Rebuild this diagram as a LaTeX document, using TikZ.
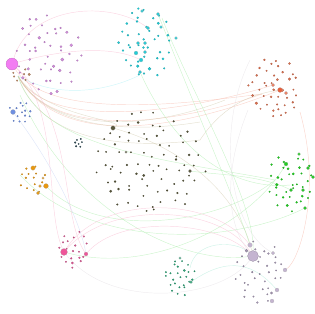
\documentclass[tikz,border=0pt]{standalone}
\usetikzlibrary{shapes.geometric}
\pgfdeclarelayer{bg}
\pgfsetlayers{bg,main}
\definecolor{magc}{HTML}{D38FDD}
\definecolor{magbig}{HTML}{F27CF2}
\definecolor{cyc}{HTML}{22CCD6}
\definecolor{redc}{HTML}{DA7050}
\definecolor{redbig}{HTML}{E8603C}
\definecolor{grc}{HTML}{22CC22}
\definecolor{olc}{HTML}{57553A}
\definecolor{orc}{HTML}{E8980F}
\definecolor{pkc}{HTML}{DD5C96}
\definecolor{pkbig}{HTML}{EE5599}
\definecolor{tec}{HTML}{2FA67A}
\definecolor{lac}{HTML}{A496B2}
\definecolor{labig}{HTML}{C4B4D0}
\definecolor{blc}{HTML}{6F8FE0}
\definecolor{tnc}{HTML}{C08A66}
\definecolor{dkc}{HTML}{35505A}
\definecolor{esal}{HTML}{F6B4A4}
\definecolor{eol}{HTML}{CFC8AA}
\definecolor{egr}{HTML}{A6ECA6}
\definecolor{epk}{HTML}{F8B4CC}
\definecolor{ecy}{HTML}{A6EEF4}
\definecolor{egy}{HTML}{E2DCE2}
\definecolor{ebl}{HTML}{C4D2F4}
\definecolor{ete}{HTML}{A8E8D4}
\tikzset{
  dot/.style={circle, inner sep=0pt, draw=black!30, line width=0.15pt},
  edge/.style={line width=0.45pt, opacity=0.55},
}
% jittered hexagonal grid inside an ellipse
% #1 name, #2 cx, #3 cy, #4 rx, #5 ry, #6 spacing, #7 colour, #8 min size, #9 size range
\newcommand\mkcluster[9]{%
  \foreach \u in {-8,...,8}{%
    \foreach \v in {-8,...,8}{%
      \pgfmathsetmacro\rX{(\u+0.5*mod(abs(\v),2))*#6+(rnd-0.5)*0.7*#6}%
      \pgfmathsetmacro\rY{\v*#6*0.87+(rnd-0.5)*0.7*#6}%
      \pgfmathsetmacro\rS{#8+#9*rnd*rnd*rnd}%
      \pgfmathsetmacro\rIn{((\rX/#4)^2+(\rY/#5)^2)<=1 ? 1 : 0}%
      \ifdim\rIn pt>0.5pt
        \node[dot, fill=#7, draw=#7!75!black, minimum size=\rS pt] (#1x\u y\v) at ({#2+\rX},{#3+\rY}) {};
      \fi
    }}}
\begin{document}
\begin{tikzpicture}[x=1pt,y=-1pt]
\useasboundingbox (0,0) rectangle (314,314);
\pgfmathsetseed{23}
% clusters of small dots
\mkcluster{m}{48}{54}{34}{42}{10.5}{magc}{1.7}{2.8}
\mkcluster{c}{146}{42}{29}{37}{10}{cyc}{1.8}{2.4}
\mkcluster{r}{275}{88}{27}{32}{8.5}{redc}{1.6}{2.2}
\mkcluster{g}{291}{182}{24}{30}{8.5}{grc}{1.6}{2.4}
\mkcluster{o}{150}{163}{58}{52}{11.5}{olc}{1.5}{1.8}
\mkcluster{or}{33}{180}{14}{14}{7}{orc}{1.6}{1.6}
\mkcluster{p}{74}{250}{15}{20}{7.5}{pkc}{1.6}{1.8}
\mkcluster{t}{180}{278}{16}{19}{6.5}{tec}{1.5}{1.8}
\mkcluster{l}{260}{272}{26}{32}{9}{lac}{1.5}{1.8}
\mkcluster{b}{20}{112}{11}{11}{6}{blc}{1.5}{1.5}
\mkcluster{tn}{22}{76}{10}{7}{6}{tnc}{1.7}{1.5}
\mkcluster{d}{78}{143}{5}{5}{4}{dkc}{1.5}{1}
% larger nodes
\node[dot, fill=magbig, draw=magbig!70!black, minimum size=12pt] (M0) at (12,64) {};
\node[dot, fill=redbig, minimum size=5pt] (R0) at (280,90) {};
\node[dot, fill=redbig!80, minimum size=3.5pt] (R1) at (286,93) {};
\node[dot, fill=redbig!80, minimum size=3.5pt] (R2) at (273,85) {};
\node[dot, fill=labig, draw=lac!80!black, minimum size=11pt] (L0) at (253,256) {};
\node[dot, fill=labig, minimum size=4.5pt] (L1) at (250,245) {};
\node[dot, fill=labig, minimum size=4pt] (L2) at (285,270) {};
\node[dot, fill=labig, minimum size=4pt] (L3) at (277,290) {};
\node[dot, fill=labig, minimum size=4pt] (L4) at (272,301) {};
\node[dot, fill=labig, minimum size=3.5pt] (L5) at (273,253) {};
\node[dot, fill=pkbig, minimum size=7pt] (P0) at (64,252) {};
\node[dot, fill=pkbig, minimum size=4pt] (P1) at (86,254) {};
\node[dot, fill=orc, minimum size=5pt] (O0) at (46,186) {};
\node[dot, fill=orc, minimum size=4.5pt] (O1) at (33,168) {};
\node[dot, fill=orc, minimum size=3.5pt] (O2) at (38,193) {};
\node[dot, fill=orc, minimum size=3pt] (O3) at (40,186) {};
\node[dot, fill=orc, minimum size=2.5pt] (O4) at (43,178) {};
\node[dot, fill=blc, minimum size=5pt] (B0) at (13,112) {};
\node[dot, fill=cyc, minimum size=4pt] (C1) at (136,53) {};
\node[dot, fill=cyc, minimum size=3.5pt] (C2) at (138,43) {};
\node[dot, fill=cyc, minimum size=3.5pt] (C3) at (145,43) {};
\node[dot, fill=cyc, minimum size=3.5pt] (C4) at (145,52) {};
\node[dot, fill=cyc, minimum size=4pt] (C5) at (141,60) {};
\node[dot, fill=cyc, minimum size=3.5pt] (C6) at (140,72) {};
\node[dot, fill=cyc, minimum size=3.5pt] (C7) at (148,28) {};
\node[dot, fill=cyc, minimum size=3pt] (C8) at (142,11) {};
\node[dot, fill=cyc, minimum size=3.5pt] (C9) at (158,14) {};
\node[dot, fill=cyc, minimum size=3pt] (C10) at (161,27) {};
\node[dot, fill=cyc, minimum size=3pt] (C11) at (176,38) {};
\node[dot, fill=grc, minimum size=4pt] (G1) at (286,164) {};
\node[dot, fill=grc, minimum size=3.5pt] (G2) at (308,168) {};
\node[dot, fill=grc, minimum size=3.5pt] (G3) at (291,190) {};
\node[dot, fill=grc, minimum size=3.5pt] (G4) at (303,190) {};
\node[dot, fill=grc, minimum size=3.5pt] (G5) at (305,208) {};
\node[dot, fill=grc, minimum size=3.5pt] (G6) at (313,177) {};
\node[dot, fill=grc, minimum size=3pt] (G7) at (299,154) {};
\node[dot, fill=olc, minimum size=4.5pt] (K1) at (113,128) {};
\node[dot, fill=olc, minimum size=3.5pt] (K2) at (190,171) {};
\node[dot, fill=olc, minimum size=2.5pt] (K3) at (126,152) {};
\node[dot, fill=tec, minimum size=3pt] (T1) at (191,282) {};
\node[dot, fill=tec, minimum size=2.5pt] (T2) at (180,258) {};
% edge end points
\coordinate (hub) at (18,76);
\coordinate (redW) at (262,94);
\coordinate (redS) at (300,112);
\coordinate (redN) at (250,60);
\coordinate (redL) at (248,110);
\coordinate (olE) at (200,122);
\coordinate (olF) at (225,100);
\coordinate (olG) at (200,140);
\coordinate (cyS) at (140,75);
\coordinate (cyT) at (162,18);
\coordinate (grW) at (275,180);
\coordinate (grC) at (290,185);
\coordinate (mgB) at (20,95);
\coordinate (orL) at (20,175);
\coordinate (teC) at (190,268);
\begin{pgfonlayer}{bg}
% salmon fan to red cluster
\draw[edge, esal] (hub) .. controls (55,145) and (190,120) .. (redW);
\draw[edge, esal] (hub) .. controls (50,135) and (200,108) .. (R2);
\draw[edge, esal] (hub) .. controls (60,152) and (185,128) .. (R0);
\draw[edge, esal] (M0) .. controls (50,125) and (210,100) .. (redW);
% olive fan
\draw[edge, eol] (hub) .. controls (45,125) and (120,135) .. (olE);
\draw[edge, eol] (hub) .. controls (50,135) and (150,130) .. (olF);
\draw[edge, eol] (hub) .. controls (40,140) and (120,150) .. (olG);
\draw[edge, eol] (hub) .. controls (45,118) and (130,120) .. (K1);
\draw[edge, eol] (K1) .. controls (190,150) and (240,200) .. (L0);
\draw[edge, eol] (olG) .. controls (220,110) and (245,95) .. (R0);
% green
\draw[edge, egr] (hub) .. controls (40,150) and (170,160) .. (grW);
\draw[edge, egr] (cyT) .. controls (190,90) and (255,200) .. (L0);
\draw[edge, egr] (C6) .. controls (180,160) and (240,190) .. (grC);
\draw[edge, egr] (C9) .. controls (200,120) and (235,200) .. (L1);
\draw[edge, egr] (O0) .. controls (100,240) and (220,225) .. (grW);
\draw[edge, egr] (orL) .. controls (90,250) and (230,245) .. (G5);
\draw[edge, egr] (mgB) .. controls (70,210) and (180,265) .. (L0);
\draw[edge, egr] (P0) .. controls (150,275) and (250,225) .. (G1);
\draw[edge, egr] (K2) .. controls (220,175) and (260,175) .. (G3);
% pink
\draw[edge, epk] (P0) .. controls (110,200) and (220,205) .. (L0);
\draw[edge, epk] (P1) .. controls (120,215) and (215,220) .. (L0);
\draw[edge, epk] (P0) .. controls (100,195) and (210,195) .. (L1);
\draw[edge, egy] (P0) .. controls (110,310) and (220,300) .. (L0);
\draw[edge, epk] (M0) .. controls (60,110) and (45,210) .. (P0);
\draw[edge, epk] (M0) .. controls (75,120) and (60,215) .. (P1);
\draw[edge, epk] (M0) .. controls (30,5) and (110,0) .. (C7);
\draw[edge, epk] (M0) .. controls (60,50) and (110,45) .. (C5);
% cyan
\draw[edge, ecy] (hub) .. controls (60,100) and (110,90) .. (cyS);
% right side
\draw[edge, esal] (redS) .. controls (322,190) and (300,260) .. (L2);
\draw[edge, egy] (redL) .. controls (220,180) and (230,230) .. (L0);
\draw[edge, egy] (redN) .. controls (215,130) and (230,230) .. (L5);
% teal
\draw[edge, ete] (teC) .. controls (195,240) and (235,240) .. (L0);
\draw[edge, ete] (T1) .. controls (230,255) and (255,265) .. (L3);
% blue
\draw[edge, ebl] (B0) .. controls (50,160) and (80,220) .. (P1);
\end{pgfonlayer}
\end{tikzpicture}
\end{document}
